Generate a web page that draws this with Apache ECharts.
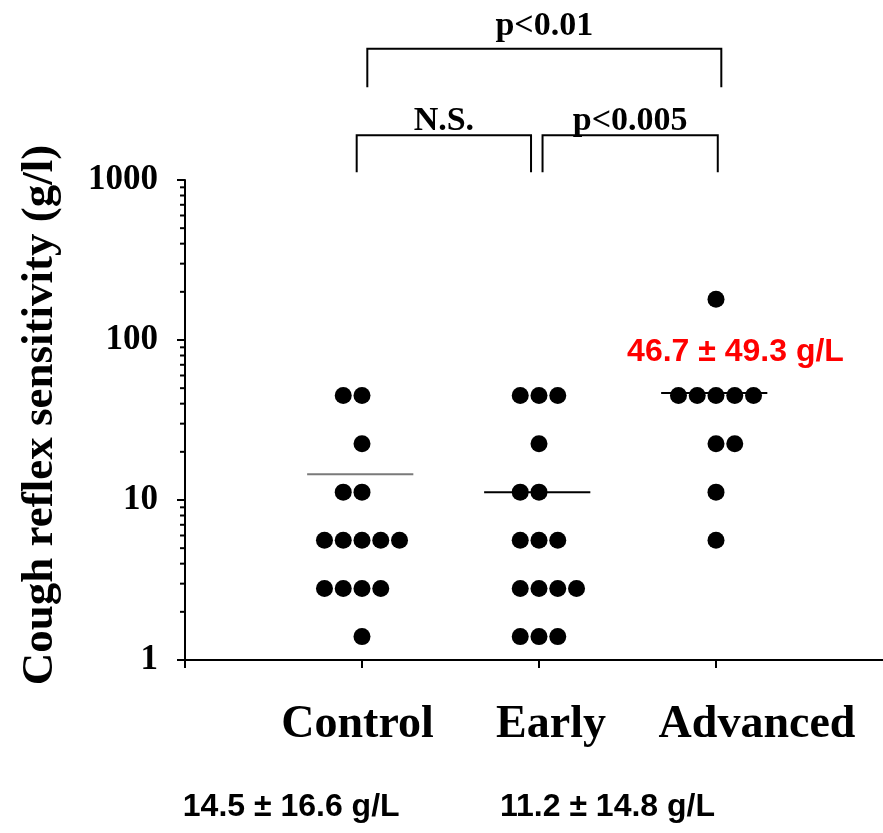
<!DOCTYPE html>
<html>
<head>
<meta charset="utf-8">
<script src="https://cdn.jsdelivr.net/npm/echarts@6/dist/echarts.min.js"></script>
<style>
  html, body { margin: 0; padding: 0; background: #fff; }
  #chart { width: 883px; height: 833px; }
</style>
</head>
<body>
<div id="chart"></div>
<script>
// ---------- DATA ----------
const categories = ['Control', 'Early', 'Advanced'];
const yTickLabels = ['1', '10', '100', '1000'];

// individual subjects (g/l)
const controlValues  = [45, 45, 22.5, 11.2, 11.2, 5.6, 5.6, 5.6, 5.6, 5.6, 2.8, 2.8, 2.8, 2.8, 1.4];
const earlyValues    = [45, 45, 45, 22.5, 11.2, 11.2, 5.6, 5.6, 5.6, 2.8, 2.8, 2.8, 2.8, 1.4, 1.4, 1.4];
const advancedValues = [180, 45, 45, 45, 45, 45, 22.5, 22.5, 11.2, 5.6];

// side-by-side slot of each dot within its row (dot-plot stacking order)
const controlSlot  = [-1, 0, 0, -1, 0, -2, -1, 0, 1, 2, -2, -1, 0, 1, 0];
const earlySlot    = [-1, 0, 1, 0, -1, 0, -1, 0, 1, -1, 0, 1, 2, -1, 0, 1];
const advancedSlot = [0, -2, -1, 0, 1, 2, 0, 1, 0, 0];

// group means and SDs (g/L)
const groupMeans = [14.5, 11.2, 46.7];
const groupSDs   = [16.6, 14.8, 49.3];

// significance comparisons
const comparisons = [
  { from: 1, to: 2, label: 'N.S.' },
  { from: 2, to: 3, label: 'p<0.005' },
  { from: 1, to: 3, label: 'p<0.01' }
];

// ---------- LAYOUT ----------
const SLOT_W = 0.106;
const groups = [
  { values: controlValues, slots: controlSlot },
  { values: earlyValues, slots: earlySlot },
  { values: advancedValues, slots: advancedSlot }
];
const dots = [];
groups.forEach((g, gi) => {
  g.values.forEach((v, k) => dots.push([gi + 1 + g.slots[k] * SLOT_W, v]));
});

const minorTickValues = [];
[1, 10, 100].forEach(d => { for (let m = 2; m <= 9; m++) minorTickValues.push(d * m); });

// bracket geometry (data units): x ends, top level, leg end level, label level
const bracketGeom = [
  { x1: 0.97, x2: 1.955, top: 1905, leg: 1120, lab: 2340 },
  { x1: 2.02, x2: 3.01, top: 1905, leg: 1120, lab: 2340 },
  { x1: 1.03, x2: 3.03, top: 6600, leg: 3800, lab: 9100 }
];

// summary text placement (data units)
const summaryPos = [
  { x: 0.60, y: 0.12, color: '#000000' },
  { x: 2.387, y: 0.12, color: '#000000' },
  { x: 3.11, y: 84, color: '#ff0000' }
];

const SERIF = '"Liberation Serif", "Times New Roman", serif';
const SANS = '"Liberation Sans", Arial, sans-serif';

const chart = echarts.init(document.getElementById('chart'), null, { renderer: 'canvas' });

const option = {
  animation: false,
  backgroundColor: '#ffffff',
  grid: { left: 185, top: 180, width: 708, height: 480, containLabel: false, outerBoundsMode: 'none' },
  xAxis: {
    type: 'value',
    min: 0,
    max: 4,
    interval: 1,
    splitLine: { show: false },
    axisLine: { lineStyle: { color: '#000', width: 2 } },
    axisTick: { show: true, length: 8, lineStyle: { color: '#000', width: 2 } },
    axisLabel: {
      margin: 42,
      formatter: function (v) {
        const i = Math.round(v);
        if (Math.abs(v - i) > 1e-6 || i < 1 || i > 3) return '';
        return '{c' + i + '|' + categories[i - 1] + '}';
      },
      rich: {
        c1: { fontFamily: SERIF, fontWeight: 'bold', fontSize: 46, color: '#000', padding: [0, 9, 0, 0] },
        c2: { fontFamily: SERIF, fontWeight: 'bold', fontSize: 46, color: '#000', padding: [0, 0, 0, 24] },
        c3: { fontFamily: SERIF, fontWeight: 'bold', fontSize: 46, color: '#000', padding: [0, 0, 0, 82] }
      }
    }
  },
  yAxis: {
    type: 'log',
    logBase: 10,
    min: 1,
    max: 1000,
    name: 'Cough reflex sensitivity (g/l)',
    nameLocation: 'middle',
    nameGap: 122,
    nameTextStyle: {
      fontFamily: SERIF, fontWeight: 'bold', fontSize: 45, color: '#000',
      padding: [0, 0, 0, 10]
    },
    splitLine: { show: false },
    axisLine: { lineStyle: { color: '#000', width: 2 } },
    axisTick: { show: true, length: 8, lineStyle: { color: '#000', width: 2 } },
    axisLabel: {
      margin: 27,
      fontFamily: SERIF, fontWeight: 'bold', fontSize: 35, color: '#000',
      formatter: function (v) {
        const idx = Math.round(Math.log10(v));
        return yTickLabels[idx] !== undefined ? yTickLabels[idx] : '';
      }
    }
  },
  series: [
    {
      name: 'minor ticks',
      type: 'custom',
      silent: true,
      data: minorTickValues.map(v => [0, v]),
      renderItem: function (params, api) {
        const p = api.coord([0, api.value(1)]);
        return {
          type: 'line',
          shape: { x1: p[0] - 5, y1: p[1], x2: p[0], y2: p[1] },
          style: { stroke: '#000', lineWidth: 2 }
        };
      }
    },
    {
      name: 'subjects',
      type: 'scatter',
      data: dots,
      symbol: 'circle',
      symbolSize: 17,
      itemStyle: { color: '#000', opacity: 1 },
      silent: true,
      z: 5
    },
    {
      name: 'means',
      type: 'custom',
      silent: true,
      z: 4,
      data: groupMeans.map((m, i) => [i + 1, m]),
      renderItem: function (params, api) {
        const x = api.value(0), m = api.value(1);
        const a = api.coord([x - 0.31, m]);
        const b = api.coord([x + 0.29, m]);
        return {
          type: 'line',
          shape: { x1: a[0], y1: a[1], x2: b[0], y2: b[1] },
          style: { stroke: params.dataIndex === 0 ? '#7a7a7a' : '#000', lineWidth: 2 }
        };
      }
    },
    {
      name: 'brackets',
      type: 'custom',
      silent: true,
      clip: false,
      data: comparisons.map((c, i) => [i]),
      renderItem: function (params, api) {
        const g = bracketGeom[params.dataIndex];
        const c = comparisons[params.dataIndex];
        const l1 = api.coord([g.x1, g.leg]);
        const t1 = api.coord([g.x1, g.top]);
        const t2 = api.coord([g.x2, g.top]);
        const l2 = api.coord([g.x2, g.leg]);
        const lab = api.coord([(g.x1 + g.x2) / 2, g.lab]);
        return {
          type: 'group',
          children: [
            {
              type: 'polyline',
              shape: { points: [l1, t1, t2, l2] },
              style: { stroke: '#000', lineWidth: 2, fill: null }
            },
            {
              type: 'text',
              x: lab[0], y: lab[1],
              style: {
                text: c.label, align: 'center', verticalAlign: 'middle',
                font: 'bold 34px ' + SERIF, fill: '#000'
              }
            }
          ]
        };
      }
    },
    {
      name: 'summaries',
      type: 'custom',
      silent: true,
      clip: false,
      data: groupMeans.map((m, i) => [i]),
      renderItem: function (params, api) {
        const i = params.dataIndex;
        const pos = summaryPos[i];
        const p = api.coord([pos.x, pos.y]);
        return {
          type: 'text',
          x: p[0], y: p[1],
          style: {
            text: groupMeans[i].toFixed(1) + ' \u00b1 ' + groupSDs[i].toFixed(1) + ' g/L',
            align: 'center', verticalAlign: 'middle',
            font: 'bold 32px ' + SANS, fill: pos.color
          }
        };
      }
    }
  ]
};

chart.setOption(option);
</script>
</body>
</html>
